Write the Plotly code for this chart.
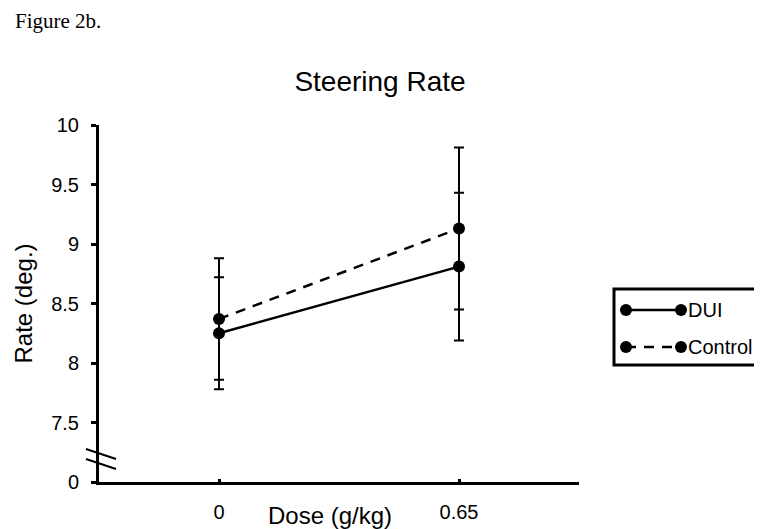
import plotly.graph_objects as go

# data
doses = ["0", "0.65"]
dui_rate = [8.25, 8.81]
dui_err = [0.47, 0.62]
control_rate = [8.37, 9.13]
control_err = [0.51, 0.68]

y_tickvals = [7.0, 7.5, 8.0, 8.5, 9.0, 9.5, 10.0]
y_ticktext = ["0", "7.5", "8", "8.5", "9", "9.5", "10"]  # 7.0 shown as 0 (broken axis)

FONT = "Arial, Liberation Sans, sans-serif"
W, H = 762, 529
L, R, T, B = 91, 571, 117, 474  # plot area in pixels


def px(x):
    return (x - L) / (R - L)


def py(y):
    return (B - y) / (B - T)


x_pos = list(range(len(doses)))

fig = go.Figure()

fig.add_trace(go.Scatter(
    x=x_pos, y=dui_rate, name="DUI", mode="lines+markers",
    line=dict(color="black", width=2.5),
    marker=dict(color="black", size=12),
    error_y=dict(type="data", array=dui_err, color="black", thickness=2, width=5),
    showlegend=False,
))
fig.add_trace(go.Scatter(
    x=x_pos, y=control_rate, name="Control", mode="lines+markers",
    line=dict(color="black", width=2.5, dash="10px,8px"),
    marker=dict(color="black", size=12),
    error_y=dict(type="data", array=control_err, color="black", thickness=2, width=5),
    showlegend=False,
))

shapes = []
# axis break marks
for y0, y1 in [(441, 451), (451, 461)]:
    shapes.append(dict(type="line", xref="paper", yref="paper",
                       x0=px(78), y0=py(y0), x1=px(108), y1=py(y1),
                       line=dict(color="black", width=2)))

# hand-drawn legend (markers at both ends of the line, as in the original)
shapes.append(dict(type="rect", xref="paper", yref="paper",
                   x0=px(606), x1=px(753), y0=py(357), y1=py(281),
                   line=dict(color="black", width=3), fillcolor="white"))
annotations = []
for row_y, dash, label in [(302, "solid", "DUI"), (339, "10px,8px", "Control")]:
    shapes.append(dict(type="line", xref="paper", yref="paper",
                       x0=px(618), x1=px(673), y0=py(row_y), y1=py(row_y),
                       line=dict(color="black", width=2.5, dash=dash)))
    for cx in (618, 673):
        shapes.append(dict(type="circle", xref="paper", yref="paper",
                           xsizemode="pixel", ysizemode="pixel",
                           xanchor=px(cx), yanchor=py(row_y),
                           x0=-6, x1=6, y0=-6, y1=6,
                           fillcolor="black", line=dict(color="black", width=0)))
    annotations.append(dict(text=label, xref="paper", yref="paper",
                            x=px(678), y=py(row_y), xanchor="left", yanchor="middle",
                            showarrow=False, font=dict(family=FONT, size=20, color="black")))

annotations.append(dict(text="Dose (g/kg)", xref="paper", yref="paper",
                        x=px(322), y=py(507), xanchor="center", yanchor="middle",
                        showarrow=False, font=dict(family=FONT, size=24, color="black")))
annotations.append(dict(text="Figure 2b.", xref="paper", yref="paper",
                        x=px(5), y=py(13), xanchor="left", yanchor="middle",
                        showarrow=False,
                        font=dict(family="Liberation Serif, Times New Roman, serif",
                                  size=21, color="black")))

fig.update_layout(
    width=W, height=H,
    margin=dict(l=L, r=W - R, t=T, b=H - B),
    paper_bgcolor="white", plot_bgcolor="white",
    title=dict(text="Steering Rate", x=372 / W, xanchor="center",
               y=1 - 73 / H, yanchor="middle",
               font=dict(family=FONT, size=28, color="black")),
    shapes=shapes,
    annotations=annotations,
)

fig.update_xaxes(
    range=[-0.5, 1.5], tickvals=x_pos, ticktext=doses,
    showgrid=False, zeroline=False, showline=True, linecolor="black", linewidth=3,
    ticks="inside", ticklen=3, tickwidth=3, tickcolor="black",
    ticklabelstandoff=10,
    tickfont=dict(family=FONT, size=20, color="black"),
)
fig.update_yaxes(
    range=[7, 10], tickvals=y_tickvals, ticktext=y_ticktext,
    showgrid=False, zeroline=False, showline=True, linecolor="black", linewidth=3,
    ticks="outside", ticklen=5, tickwidth=3, tickcolor="black",
    ticklabelstandoff=8,
    tickfont=dict(family=FONT, size=20, color="black"),
    title=dict(text="Rate (deg.)", standoff=12,
               font=dict(family=FONT, size=24, color="black")),
)

fig.write_html("out.html")
